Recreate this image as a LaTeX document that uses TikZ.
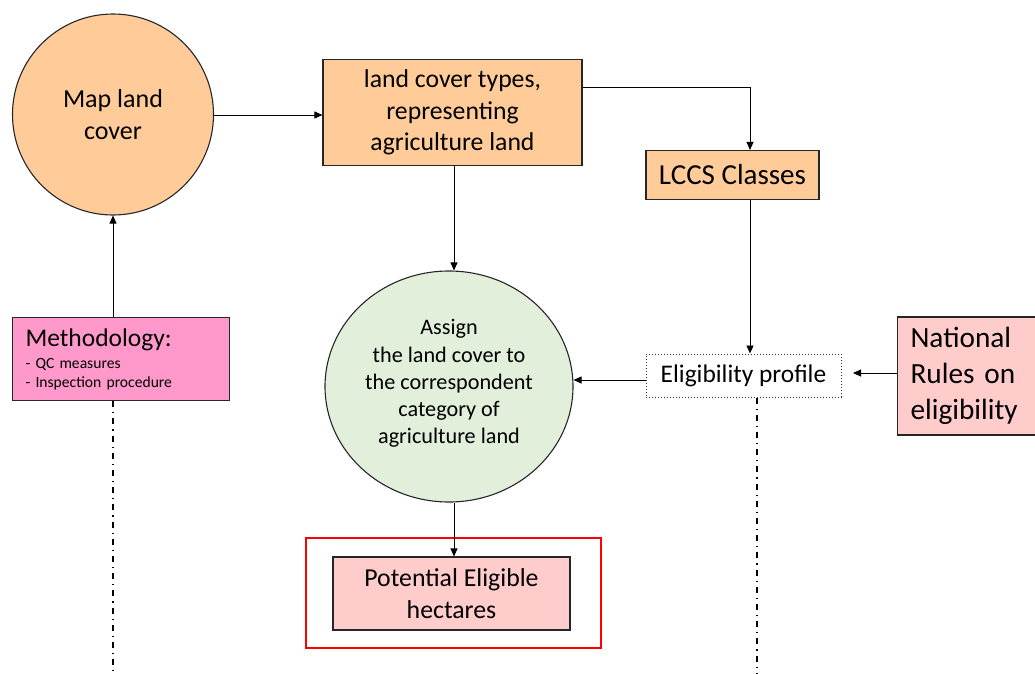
\documentclass[tikz,border=0pt]{standalone}
\usepackage{fontspec}
\setmainfont{Carlito}
\usetikzlibrary{arrows.meta,shapes.geometric}
\definecolor{orangefill}{RGB}{255,204,153}
\definecolor{pinkfill}{RGB}{255,153,204}
\definecolor{lightpink}{RGB}{255,204,204}
\definecolor{greenfill}{RGB}{226,239,218}
\newcommand{\fs}[1]{\fontsize{#1pt}{\dimexpr #1pt*122/100\relax}\selectfont}
\tikzset{
  x=1pt, y=-1pt,
  boxst/.style={draw=black!85, line width=1.1pt, inner sep=0pt, align=center},
  arr/.style={-{Triangle[length=8pt,width=7pt]}, line width=0.9pt},
  dashdot/.style={line width=1.2pt, dash pattern=on 6pt off 5pt on 1.2pt off 5pt},
}
\begin{document}
\begin{tikzpicture}
\useasboundingbox (0,0) rectangle (1035,673);
% nodes
\node[boxst, circle, fill=orangefill, minimum size=201pt, font=\fs{26}] (map) at (113,114.5) {Map land\\cover};
\node[boxst, fill=orangefill, minimum width=259pt, minimum height=106pt, font=\fs{25.7}] (types) at (452.5,112.5) {land cover types,\\representing\\agriculture land};
\node[boxst, fill=orangefill, minimum width=173pt, minimum height=49pt, font=\fs{29}] (lccs) at (732.5,175) {LCCS Classes};
\node[boxst, ellipse, fill=greenfill, minimum width=248pt, minimum height=231pt, font=\fs{22.2}] (assign) at (449,386.5) {Assign\\the land cover to\\the correspondent\\category of\\agriculture land\\[-17pt]\mbox{}};
\node[draw=black!80, dotted, line width=1pt, minimum width=195pt, minimum height=43pt, inner sep=0pt, font=\fs{25.4}] (elig) at (743.5,375.5) {Eligibility profile};
\node[boxst, fill=lightpink, minimum width=150pt, minimum height=118pt, anchor=west, align=left, text width=124pt, font=\fs{29.3}] (nat) at (897,376) {National\\Rules on\\eligibility};
\node[boxst, fill=pinkfill, minimum width=217pt, minimum height=83pt, anchor=north west, align=left, text width=191pt, font=\fs{15.6}] (meth) at (12,317) {{\fs{25.5}Methodology:}\\[3pt]- QC measures\\[0pt]- Inspection procedure};
\node[draw=red, line width=2pt, minimum width=295pt, minimum height=110pt] (redbox) at (453.5,593) {};
\node[boxst, fill=lightpink, minimum width=237pt, minimum height=73pt, font=\fs{25.8}] (pot) at (451.5,593.5) {Potential Eligible\\hectares};
% connectors
\draw[arr] (map.east |- 0,115) -- (types.west |- 0,115);
\draw[arr] (types.east |- 0,87) -| (lccs.north -| 750,0);
\draw[arr] (types.south -| 454,0) -- (assign.north -| 454,0);
\draw[arr] (lccs.south -| 750,0) -- (elig.north -| 750,0);
\draw[arr] (elig.west |- 0,380) -- (assign.east |- 0,380);
\coordinate (natend) at (853,373);
\draw[arr] (nat.west |- 0,373) -- (natend);
\draw[arr] (meth.north -| map.south) -- (map.south);
\draw[arr] (assign.south -| 454,0) -- (pot.north -| 454,0);
% dash-dot lines
\coordinate (mend) at (113,673);
\coordinate (eend) at (757,673);
\draw[dashdot] (meth.south -| mend) -- (mend);
\draw[dashdot] (elig.south -| eend) -- (eend);
\end{tikzpicture}
\end{document}
